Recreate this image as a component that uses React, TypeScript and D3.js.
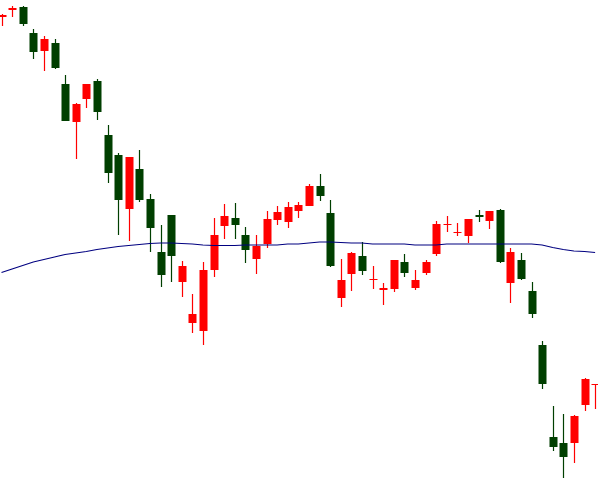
import React from "react";
import * as d3 from "d3";

// OHLC values (price units), one entry per session
const opens = [3183, 3190, 3193, 3167, 3149, 3157, 3116, 3078, 3101, 3119, 3065, 3045, 2991, 3031, 3001, 2948, 2985, 2918, 2877, 2869, 2930, 2974, 2982, 2965, 2941, 2956, 2980, 2978, 2989, 2994, 3014, 2987, 2902, 2926, 2944, 2920, 2910, 2911, 2938, 2912, 2927, 2946, 2976, 2967, 2964, 2985, 2979, 2990, 2917, 2940, 2909, 2855, 2763, 2757, 2757, 2795, 2815];
const highs = [3186, 3194, 3194, 3171, 3164, 3161, 3125, 3097, 3116, 3121, 3075, 3047, 3043, 3050, 3006, 2975, 2985, 2939, 2906, 2938, 2982, 2996, 2997, 2973, 2965, 2989, 2994, 2998, 2998, 3016, 3026, 3000, 2941, 2948, 2958, 2934, 2917, 2940, 2946, 2930, 2940, 2979, 2984, 2977, 2981, 2990, 2989, 2991, 2952, 2947, 2918, 2859, 2794, 2786, 2785, 2822, 2815];
const lows = [3174, 3183, 3174, 3141, 3129, 3131, 3079, 3041, 3092, 3080, 3017, 2965, 2959, 2998, 2948, 2913, 2918, 2903, 2867, 2855, 2923, 2961, 2961, 2937, 2926, 2952, 2975, 2972, 2982, 2994, 2999, 2933, 2893, 2909, 2925, 2911, 2895, 2908, 2923, 2910, 2925, 2944, 2968, 2964, 2957, 2978, 2971, 2937, 2897, 2920, 2882, 2811, 2749, 2722, 2737, 2789, 2791];
const closes = [3185, 3192, 3176, 3148, 3161, 3132, 3079, 3096, 3116, 3088, 3027, 3000, 3043, 3000, 2972, 2925, 2944, 2934, 2886, 2930, 2965, 2984, 2975, 2950, 2954, 2981, 2988, 2993, 2995, 3014, 3004, 2934, 2920, 2947, 2929, 2921, 2912, 2940, 2927, 2920, 2938, 2976, 2976, 2968, 2981, 2983, 2989, 2938, 2948, 2921, 2886, 2816, 2753, 2743, 2784, 2821, 2816];
// moving average line
const maValues = [2927.5, 2931, 2934.5, 2938, 2940.5, 2943, 2945.5, 2947, 2948.5, 2950.5, 2952, 2953.5, 2954.5, 2955.5, 2956.5, 2957, 2957, 2956.5, 2956, 2955, 2954.5, 2954.5, 2954.5, 2955, 2955, 2955, 2955, 2956, 2956, 2957, 2958, 2958, 2957.5, 2957, 2957, 2956, 2956, 2956, 2956, 2955, 2955, 2955, 2956, 2956, 2956, 2956, 2956, 2956, 2956, 2956, 2956, 2955, 2952.5, 2950.5, 2949, 2948.5, 2947.5];

const W = 598;
const H = 481;
const UP = "#ff0000";
const DOWN = "#003f00";
const MA = "#000080";

export default function App() {
  const n = opens.length;
  const x = d3.scaleLinear().domain([0, n - 1]).range([1.5, 595.1]);
  const y = d3.scaleLinear().domain([2720, 3200]).range([480, 0]);
  const bodyW = 8;
  const line = d3
    .line<number>()
    .x((_, i) => x(i))
    .y((d) => y(d));

  return (
    <div style={{ position: "fixed", left: 0, top: 0, width: W, height: H, background: "#fff" }}>
      <svg width={W} height={H} style={{ display: "block" }}>
        <rect width={W} height={H} fill="#fff" />
        {opens.map((o, i) => {
          const c = closes[i];
          const up = c >= o;
          const col = up ? UP : DOWN;
          const cx = Math.round(x(i)) + 0.5;
          const top = y(Math.max(o, c));
          const bot = y(Math.min(o, c));
          const h = Math.max(1, bot - top);
          return (
            <g key={i}>
              <line x1={cx} x2={cx} y1={y(highs[i])} y2={y(lows[i])} stroke={col} strokeWidth={1.2} />
              <rect x={cx - bodyW / 2} y={top} width={bodyW} height={h} fill={col} />
            </g>
          );
        })}
        <path d={line(maValues) || ""} fill="none" stroke={MA} strokeWidth={1.2} />
      </svg>
    </div>
  );
}
